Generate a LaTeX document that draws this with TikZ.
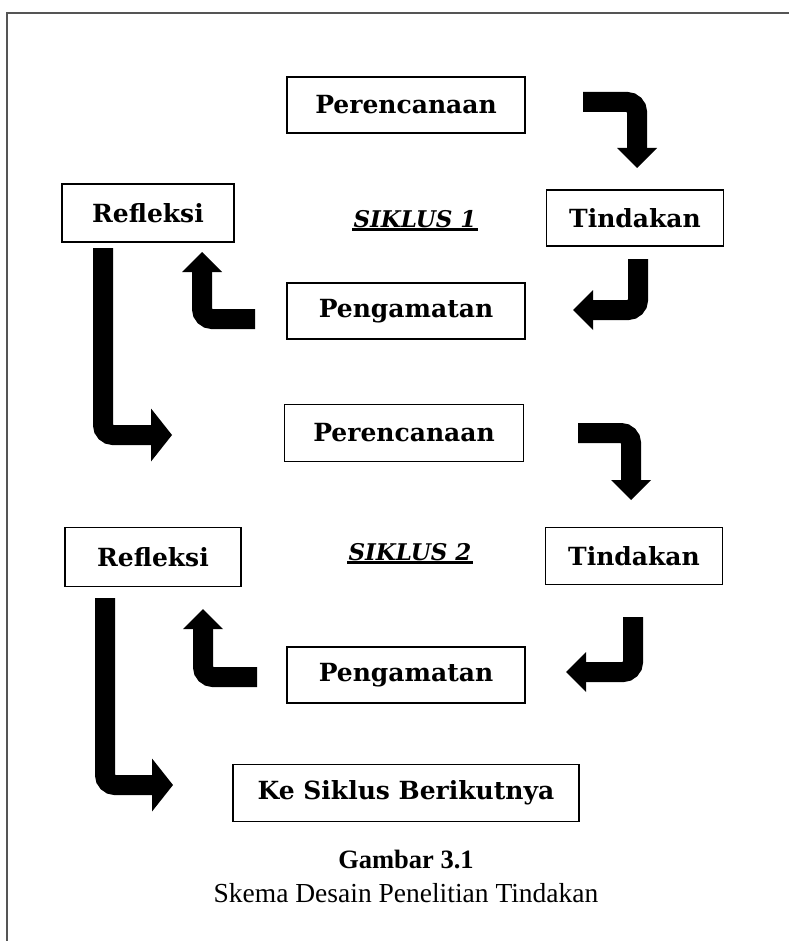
\documentclass[tikz,border=0pt]{standalone}
\usepackage{fontspec}
\setmainfont{Liberation Serif}
\newfontfamily\kotakfont{DejaVu Serif}
\usetikzlibrary{arrows.meta}
\definecolor{tinta}{HTML}{000000}
\definecolor{marco}{HTML}{555555}
\tikzset{
  % Cajas de cada etapa del ciclo
  kotak/.style  = {draw=tinta, line width=1.6pt, inner sep=0pt,
                   minimum width=238pt, minimum height=56pt,
                   font=\kotakfont\bfseries\fontsize{25}{30}\selectfont},
  % Título del ciclo (cursiva, subrayado aparte)
  judul/.style  = {inner sep=1pt, font=\kotakfont\bfseries\itshape\fontsize{23}{27}\selectfont},
  garis/.style  = {line width=3pt, color=tinta},
  % Flechas de bloque (corta y larga)
  panah/.style  = {line width=20pt, color=tinta, rounded corners=10pt,
                   -{Triangle[length=20pt, width=40pt, line width=0pt]}},
  panah panjang/.style = {panah,
                   -{Triangle[length=21pt, width=53pt, line width=0pt]}},
  % Marco de la página
  bingkai/.style = {line width=1.5pt, color=marco},
  every node/.style = {text=tinta},
}
\begin{document}
\begin{tikzpicture}[x=1pt, y=-1pt]
  \useasboundingbox (0,0) rectangle (789,941);
  \draw[bingkai] (7,941) -- (7,13) -- (789,13);

  % ============================================================
  % SIKLUS 1
  % ============================================================
  \node[kotak] (rencana1) at (406,105) {Perencanaan};
  \node[kotak, minimum width=172pt, minimum height=58pt] (refleksi1) at (148,213) {Refleksi};
  \node[kotak, minimum width=177pt] (tindakan1) at (635,218) {Tindakan};
  \node[kotak] (amat1) at (406,311) {Pengamatan};
  \node[judul] (siklus1) at (415,219) {SIKLUS 1};
  \draw[garis] ([yshift=-1pt]siklus1.south west) -- ([yshift=-1pt]siklus1.south east);

  \coordinate (a1) at (583,102);  \coordinate (b1) at (637,102);  \coordinate (c1) at (637,168);
  \coordinate (a2) at (638,259);  \coordinate (b2) at (638,310);  \coordinate (c2) at (573,310);
  \coordinate (a3) at (255,319);  \coordinate (b3) at (202,319);  \coordinate (c3) at (202,252);
  \coordinate (a4) at (103,248);  \coordinate (b4) at (103,435);  \coordinate (c4) at (172,435);

  \draw[panah] (a1) -- (b1) -- (c1);
  \draw[panah] (a2) -- (b2) -- (c2);
  \draw[panah] (a3) -- (b3) -- (c3);
  \draw[panah panjang] (a4) -- (b4) -- (c4);

  % ============================================================
  % SIKLUS 2
  % ============================================================
  \node[kotak, minimum width=239pt, minimum height=57pt] (rencana2) at (404,433) {Perencanaan};
  \node[kotak, minimum width=176pt, minimum height=59pt] (refleksi2) at (153,557) {Refleksi};
  \node[kotak, minimum width=177pt, minimum height=57pt] (tindakan2) at (634,556) {Tindakan};
  \node[kotak] (amat2) at (406,675) {Pengamatan};
  \node[judul] (siklus2) at (410,552) {SIKLUS 2};
  \draw[garis] ([yshift=-1pt]siklus2.south west) -- ([yshift=-1pt]siklus2.south east);

  \coordinate (a5) at (578,433);  \coordinate (b5) at (631,433);  \coordinate (c5) at (631,500);
  \coordinate (a6) at (633,617);  \coordinate (b6) at (633,672);  \coordinate (c6) at (566,672);
  \coordinate (a7) at (257,677);  \coordinate (b7) at (203,677);  \coordinate (c7) at (203,609);
  \coordinate (a8) at (105,598);  \coordinate (b8) at (105,785);  \coordinate (c8) at (173,785);

  \draw[panah] (a5) -- (b5) -- (c5);
  \draw[panah] (a6) -- (b6) -- (c6);
  \draw[panah] (a7) -- (b7) -- (c7);
  \draw[panah panjang] (a8) -- (b8) -- (c8);

  \node[kotak, minimum width=346pt, minimum height=57pt] (lanjut) at (406,793) {Ke Siklus Berikutnya};

  % Pie de figura
  \node[font=\bfseries\fontsize{26.5}{30}\selectfont] (gambar) at (406,859) {Gambar 3.1};
  \node[font=\fontsize{27.5}{32}\selectfont] (skema) at (406,893) {Skema Desain Penelitian Tindakan};
\end{tikzpicture}
\end{document}
